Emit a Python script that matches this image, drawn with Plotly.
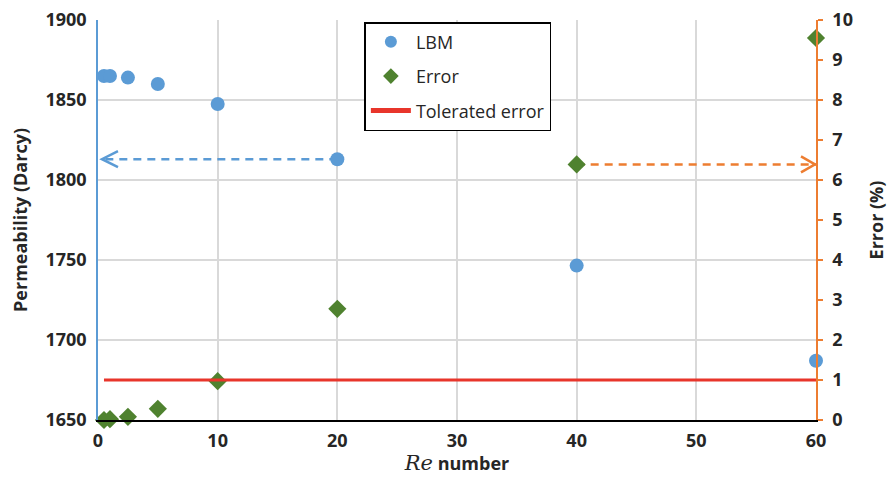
import plotly.graph_objects as go

re_vals = [0.5, 1, 2.5, 5, 10, 20, 40, 60]
lbm_perm = [1865, 1865, 1864, 1860, 1847.5, 1813, 1746.5, 1687]
error_pct = [0.0, 0.02, 0.08, 0.28, 0.97, 2.78, 6.39, 9.55]
tol_x = [0.5, 60]
tol_err = [1, 1]

BLUE = "#5B9BD5"
ORANGE = "#ED7D31"
GREEN = "#4F822F"
RED = "#E8352B"
TXT = "#262626"
FONT = "Open Sans"

i20 = re_vals.index(20)
i40 = re_vals.index(40)

fig = go.Figure()
# dashed guide lines (drawn first so markers sit on top)
fig.add_trace(go.Scatter(x=[re_vals[i20], re_vals[0]], y=[lbm_perm[i20]] * 2,
                         mode="lines", showlegend=False, hoverinfo="skip",
                         line=dict(color=BLUE, width=2.5, dash="8px,6px"), yaxis="y"))
fig.add_trace(go.Scatter(x=[re_vals[i40], re_vals[-1]], y=[error_pct[i40]] * 2,
                         mode="lines", showlegend=False, hoverinfo="skip",
                         line=dict(color=ORANGE, width=2.5, dash="8px,6px"), yaxis="y2"))

fig.add_trace(go.Scatter(x=re_vals, y=lbm_perm, mode="markers", name="LBM",
                         legendgroup="a", cliponaxis=False,
                         marker=dict(symbol="circle", size=14, color=BLUE),
                         yaxis="y"))
fig.add_trace(go.Scatter(x=re_vals, y=error_pct, mode="markers", name="Error",
                         legendgroup="b", cliponaxis=False,
                         marker=dict(symbol="diamond", size=14, color=GREEN),
                         yaxis="y2"))
fig.add_trace(go.Scatter(x=tol_x, y=tol_err, mode="lines", name="Tolerated error",
                         legendgroup="c",
                         line=dict(color=RED, width=3), yaxis="y2"))

# chevron arrow heads
fig.add_shape(type="path", xref="x", yref="y", xsizemode="pixel", ysizemode="pixel",
              xanchor=re_vals[0], yanchor=lbm_perm[i20],
              path="M 14,8 L -2,0 L 14,-8", line=dict(color=BLUE, width=2.5))
fig.add_shape(type="path", xref="x", yref="y2", xsizemode="pixel", ysizemode="pixel",
              xanchor=re_vals[-1], yanchor=error_pct[i40],
              path="M -15,8 L -1,0 L -15,-8", line=dict(color=ORANGE, width=2.5))

tickfont = dict(family=FONT, size=18, color=TXT, weight="bold")
titlefont = dict(family=FONT, size=18, color=TXT, weight="bold")

fig.update_layout(
    width=880, height=467,
    margin=dict(l=90, r=72, t=12, b=55, autoexpand=False),
    paper_bgcolor="white", plot_bgcolor="white",
    showlegend=True,
    legend=dict(x=0.371, y=0.995, xanchor="left", yanchor="top",
                bgcolor="white", bordercolor="black", borderwidth=1.5,
                font=dict(family=FONT, size=18, color=TXT),
                itemsizing="constant", itemwidth=40, tracegroupgap=8),
    xaxis=dict(range=[0, 60], dtick=10, showgrid=True, gridcolor="#D9D9D9",
               gridwidth=1.5, zeroline=False, showline=True, linecolor="black",
               linewidth=1.5, ticks="", tickfont=tickfont, ticklabelstandoff=4,
               ticklabeloverflow="allow", automargin=False,
               title=dict(text="<span style='font-family:DejaVu Serif;font-weight:normal;font-size:21px'><i>Re</i></span> number",
                          font=titlefont, standoff=0)),
    yaxis=dict(range=[1650, 1900], dtick=50, showgrid=True, gridcolor="#D9D9D9",
               gridwidth=1.5, zeroline=False, showline=True, linecolor=BLUE,
               linewidth=1.5, ticks="", tickfont=tickfont, ticklabelstandoff=6,
               ticklabeloverflow="allow", automargin=False,
               title=dict(text="Permeability (Darcy)", font=titlefont, standoff=14)),
    yaxis2=dict(range=[0, 10], dtick=1, overlaying="y", side="right",
                showgrid=False, zeroline=False, showline=True, linecolor=ORANGE,
                linewidth=1.5, ticks="outside", ticklen=5, tickcolor=ORANGE,
                tickwidth=1.5, tickfont=tickfont, ticklabelstandoff=6,
                ticklabeloverflow="allow", automargin=False,
                title=dict(text="Error (%)", font=titlefont, standoff=22)),
)

fig.write_html("out.html")
